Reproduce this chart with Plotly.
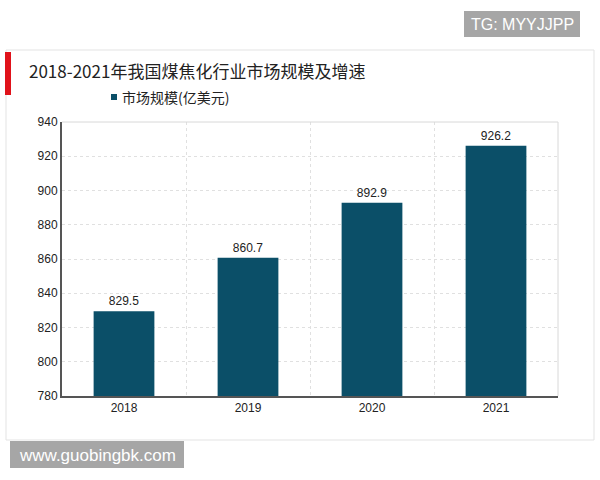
import plotly.graph_objects as go

years = ["2018", "2019", "2020", "2021"]
market_size = [829.5, 860.7, 892.9, 926.2]
value_labels = ["829.5", "860.7", "892.9", "926.2"]
series_name = "市场规模(亿美元)"
title_text = "2018-2021年我国煤焦化行业市场规模及增速"
y_ticks = [780, 800, 820, 840, 860, 880, 900, 920, 940]

bar_color = "#0b4f68"
num_font = "Liberation Sans, Arial, sans-serif"
cjk_font = "Noto Sans CJK SC, sans-serif"

fig = go.Figure()
fig.add_trace(go.Bar(
    x=years, y=market_size, name=series_name,
    marker=dict(color=bar_color, line=dict(width=0)),
    width=0.49,
    text=value_labels, textposition="outside",
    textfont=dict(family=num_font, size=12, color="#222222"),
    cliponaxis=False, showlegend=False,
))

W, H = 600, 480
fig.update_layout(
    width=W, height=H,
    margin=dict(l=62, r=42, t=122, b=84),
    paper_bgcolor="white", plot_bgcolor="white",
    showlegend=False,
    bargap=0.51,
    xaxis=dict(type="category", tickson="boundaries", showgrid=True,
               gridcolor="#e0e0e0", griddash="3px,3px", gridwidth=1,
               ticks="", showline=True, linecolor="#555555", linewidth=2,
               tickfont=dict(family=num_font, size=12, color="#222222"),
               zeroline=False),
    yaxis=dict(range=[780, 940], tickvals=y_ticks, showgrid=True,
               gridcolor="#e0e0e0", griddash="3px,3px", gridwidth=1,
               ticks="", showline=True, linecolor="#555555", linewidth=2,
               tickfont=dict(family=num_font, size=12, color="#222222"),
               zeroline=False),
)

def px(x): return (x - 62) / 496
def py(y): return (396 - y) / 274

shapes = [
    # card border
    dict(type="rect", xref="paper", yref="paper", x0=px(6), x1=px(594),
         y0=py(440), y1=py(50), line=dict(color="#e3e3e3", width=1),
         fillcolor="rgba(0,0,0,0)", layer="below"),
    # red bar
    dict(type="rect", xref="paper", yref="paper", x0=px(5), x1=px(11),
         y0=py(95), y1=py(52), line=dict(width=0), fillcolor="#e0121a"),
    # plot frame top/right
    dict(type="line", xref="paper", yref="paper", x0=0, x1=1, y0=1, y1=1,
         line=dict(color="#d8d8d8", width=1)),
    dict(type="line", xref="paper", yref="paper", x0=1, x1=1, y0=0, y1=1,
         line=dict(color="#d8d8d8", width=1)),
    # legend swatch
    dict(type="rect", xref="paper", yref="paper", x0=px(111), x1=px(117),
         y0=py(100), y1=py(94), line=dict(width=0), fillcolor=bar_color),
    # watermark boxes
    dict(type="rect", xref="paper", yref="paper", x0=px(464), x1=px(580),
         y0=py(37), y1=py(11), line=dict(width=0), fillcolor="#a6a6a6"),
    dict(type="rect", xref="paper", yref="paper", x0=px(10), x1=px(184),
         y0=py(468), y1=py(441), line=dict(width=0), fillcolor="#a6a6a6"),
]

annotations = [
    dict(text=title_text, xref="paper", yref="paper", x=px(27), y=py(70),
         xanchor="left", yanchor="middle", showarrow=False,
         font=dict(family=cjk_font, size=17, color="#222222")),
    dict(text=series_name, xref="paper", yref="paper", x=px(120), y=py(97),
         xanchor="left", yanchor="middle", showarrow=False,
         font=dict(family=cjk_font, size=14, color="#222222")),
    dict(text="TG: MYYJJPP", xref="paper", yref="paper", x=px(522), y=py(24),
         xanchor="center", yanchor="middle", showarrow=False,
         font=dict(family=num_font, size=16, color="white")),
    dict(text="www.guobingbk.com", xref="paper", yref="paper", x=px(97), y=py(455),
         xanchor="center", yanchor="middle", showarrow=False,
         font=dict(family=num_font, size=17, color="white")),
]
fig.update_layout(shapes=shapes, annotations=annotations)

fig.write_html("out.html")
